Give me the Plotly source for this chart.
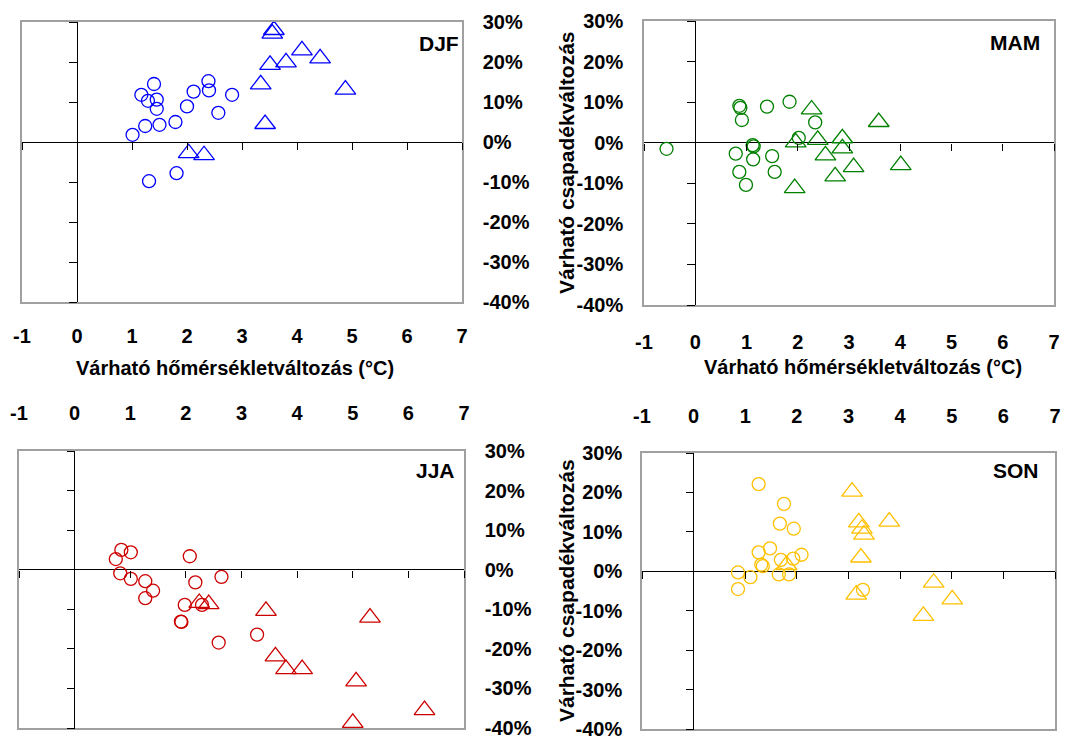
import plotly.graph_objects as go

# ---------------- data (°C change, % precipitation change) ----------------
x_tickvals = [-1, 0, 1, 2, 3, 4, 5, 6, 7]
x_ticktext = ["-1", "0", "1", "2", "3", "4", "5", "6", "7"]
y_tickvals = [-40, -30, -20, -10, 0, 10, 20, 30]
y_ticktext = ["-40%", "-30%", "-20%", "-10%", "0%", "10%", "20%", "30%"]

seasons = ["DJF", "MAM", "JJA", "SON"]

djf_circle_t = [1.01, 1.24, 1.50, 1.79, 1.17, 1.29, 1.45, 1.45, 1.40, 2.00, 2.12, 2.39, 2.40, 2.57, 2.82, 1.31, 1.81]
djf_circle_p = [1.8, 4.0, 4.3, 5.0, 11.8, 10.3, 10.6, 8.3, 14.5, 8.9, 12.6, 15.2, 12.9, 7.3, 11.8, -9.8, -7.8]
djf_tri_t = [3.58, 3.55, 4.09, 4.42, 3.80, 3.51, 3.34, 4.88, 3.42, 2.03, 2.31]
djf_tri_p = [28.0, 27.1, 22.9, 20.9, 19.9, 19.3, 14.4, 13.1, 4.5, -2.8, -3.3]

mam_circle_t = [-0.56, 0.86, 0.88, 0.91, 1.40, 1.84, 2.34, 2.02, 1.12, 1.14, 0.79, 1.13, 1.50, 0.86, 1.55, 0.99]
mam_circle_p = [-1.5, 9.1, 8.6, 5.6, 8.9, 10.1, 5.0, 1.2, -0.6, -0.9, -2.7, -4.1, -3.3, -7.2, -7.2, -10.4]
mam_tri_t = [2.27, 3.58, 1.96, 2.39, 2.87, 2.87, 2.54, 3.09, 2.73, 4.01, 1.94]
mam_tri_p = [8.2, 5.1, 0.1, 0.7, 1.1, -1.4, -3.1, -6.0, -8.3, -5.5, -11.2]

jja_circle_t = [0.84, 1.01, 0.74, 2.07, 0.82, 1.01, 1.27, 1.41, 1.27, 2.17, 2.64, 1.98, 2.29, 1.91, 1.92, 2.59, 3.28]
jja_circle_p = [5.0, 4.4, 2.7, 3.4, -0.9, -2.3, -2.9, -5.3, -7.2, -3.2, -1.8, -8.9, -8.9, -13.1, -13.2, -18.4, -16.4]
jja_tri_t = [2.24, 2.41, 3.44, 5.31, 3.61, 3.80, 4.09, 5.06, 6.29, 5.00]
jja_tri_p = [-8.4, -8.7, -10.4, -12.1, -21.9, -25.1, -25.1, -28.2, -35.5, -38.7]

son_circle_t = [1.26, 1.75, 1.67, 1.94, 1.26, 1.48, 1.31, 1.34, 1.69, 1.93, 2.09, 0.86, 1.10, 0.86, 1.65, 1.85, 3.28]
son_circle_p = [22.1, 17.1, 12.1, 10.8, 4.8, 5.8, 1.7, 1.3, 2.9, 3.2, 4.2, -0.3, -1.5, -4.5, -0.8, -0.8, -4.7]
son_tri_t = [3.07, 3.20, 3.79, 3.26, 3.30, 3.24, 1.80, 3.15, 4.65, 5.01, 4.45]
son_tri_p = [20.2, 12.4, 12.6, 10.8, 9.3, 3.5, 1.6, -5.9, -2.9, -7.1, -11.3]

x_title = "Várható hőmérsékletváltozás (°C)"
y_title = "Várható csapadékváltozás"

# ---------------- styling / layout ----------------
FONT = "Liberation Sans, Arial, Helvetica, sans-serif"
W, H = 1092, 738
X_RANGE = [-1, 7]
Y_RANGE = [-40, 30]
FRAME = "#A0A0A0"

panels = {
    "DJF": dict(n=1, color="#0000FF", px=(22, 462), py=(22, 302), xside="bottom", yside="right",
                xlen=15, ylen=15, data=(djf_circle_t, djf_circle_p, djf_tri_t, djf_tri_p),
                lab=(0.998, 0.925)),
    "MAM": dict(n=2, color="#008000", px=(644, 1054), py=(21, 305), xside="bottom", yside="left",
                xlen=18, ylen=15, data=(mam_circle_t, mam_circle_p, mam_tri_t, mam_tri_p),
                lab=(0.971, 0.926)),
    "JJA": dict(n=3, color="#CC0000", px=(19, 464), py=(451, 728), xside="top", yside="right",
                xlen=21, ylen=15, data=(jja_circle_t, jja_circle_p, jja_tri_t, jja_tri_p),
                lab=(0.984, 0.928)),
    "SON": dict(n=4, color="#FFC000", px=(642, 1055), py=(453, 729), xside="top", yside="left",
                xlen=20, ylen=14, data=(son_circle_t, son_circle_p, son_tri_t, son_tri_p),
                lab=(0.966, 0.935)),
}

fig = go.Figure()
layout = {}
annotations = []
tickfont = dict(family=FONT, size=20, color="black", weight="bold")

for s in seasons:
    p = panels[s]
    n = p["n"]
    xd = [p["px"][0] / W, p["px"][1] / W]
    yd = [1 - p["py"][1] / H, 1 - p["py"][0] / H]
    xs = "" if n == 1 else str(n)
    ct, cp, tt, tp = p["data"]

    fig.add_trace(go.Scatter(x=ct, y=cp, mode="markers", xaxis="x" + xs, yaxis="y" + xs,
                             marker=dict(symbol="circle-open", size=13, color=p["color"],
                                         line=dict(width=1.3, color=p["color"])),
                             name=s + " (circles)", showlegend=False, hoverinfo="x+y"))
    fig.add_trace(go.Scatter(x=tt, y=tp, mode="markers", xaxis="x" + xs, yaxis="y" + xs,
                             marker=dict(symbol="triangle-up-open", size=18, color=p["color"],
                                         line=dict(width=1.3, color=p["color"])),
                             name=s + " (triangles)", showlegend=False, hoverinfo="x+y"))

    # main axes: frame + tick labels
    layout["xaxis" + xs] = dict(domain=xd, range=X_RANGE, anchor="y" + xs, side=p["xside"],
                                tickvals=x_tickvals, ticktext=x_ticktext, ticks="outside",
                                ticklen=p["xlen"], tickcolor="rgba(0,0,0,0)", tickfont=tickfont,
                                ticklabeloverflow="allow",
                                showline=True, linecolor=FRAME, linewidth=1.5, mirror=True,
                                showgrid=False, zeroline=True, zerolinecolor="black",
                                zerolinewidth=1.2, fixedrange=True)
    layout["yaxis" + xs] = dict(domain=yd, range=Y_RANGE, anchor="x" + xs, side=p["yside"],
                                tickvals=y_tickvals, ticktext=y_ticktext, ticks="outside",
                                ticklen=p["ylen"], tickcolor="rgba(0,0,0,0)", tickfont=tickfont,
                                ticklabeloverflow="allow",
                                showline=True, linecolor=FRAME, linewidth=1.5, mirror=True,
                                showgrid=False, zeroline=True, zerolinecolor="black",
                                zerolinewidth=1.2, fixedrange=True)

    # overlay axes: tick marks on the zero lines
    ox = str(n + 4)
    y_zero_pos = yd[0] + (0 - Y_RANGE[0]) / (Y_RANGE[1] - Y_RANGE[0]) * (yd[1] - yd[0])
    x_zero_pos = xd[0] + (0 - X_RANGE[0]) / (X_RANGE[1] - X_RANGE[0]) * (xd[1] - xd[0])
    layout["xaxis" + ox] = dict(overlaying="x" + xs, anchor="free", position=y_zero_pos,
                                side="bottom", range=X_RANGE, tickvals=x_tickvals, ticks="outside",
                                ticklen=7, tickwidth=1.2, tickcolor="black", showticklabels=False,
                                showline=False, showgrid=False, zeroline=False, fixedrange=True)
    layout["yaxis" + ox] = dict(overlaying="y" + xs, anchor="free", position=x_zero_pos,
                                side="left", range=Y_RANGE, tickvals=y_tickvals, ticks="outside",
                                ticklen=8, tickwidth=1.2, tickcolor="black", showticklabels=False,
                                showline=False, showgrid=False, zeroline=False, fixedrange=True)
    fig.add_trace(go.Scatter(x=[None], y=[None], xaxis="x" + ox, yaxis="y" + xs,
                             showlegend=False, hoverinfo="skip"))
    fig.add_trace(go.Scatter(x=[None], y=[None], xaxis="x" + xs, yaxis="y" + ox,
                             showlegend=False, hoverinfo="skip"))

    annotations.append(dict(text=s, xref="x" + xs + " domain", yref="y" + xs + " domain",
                            x=p["lab"][0], y=p["lab"][1], xanchor="right", yanchor="middle",
                            showarrow=False,
                            font=dict(family=FONT, size=21, color="black", weight="bold")))

# axis titles (relative to their panel's domain)
annotations.append(dict(text=x_title, xref="x domain", yref="y domain", x=0.484, y=-0.236,
                        xanchor="center", yanchor="middle", showarrow=False,
                        font=dict(family=FONT, size=20, color="black", weight="bold")))
annotations.append(dict(text=x_title, xref="x2 domain", yref="y2 domain", x=0.534, y=-0.218,
                        xanchor="center", yanchor="middle", showarrow=False,
                        font=dict(family=FONT, size=20, color="black", weight="bold")))
annotations.append(dict(text=y_title, xref="x2 domain", yref="y2 domain", x=-0.190, y=0.5,
                        xanchor="center", yanchor="middle", textangle=-90, showarrow=False,
                        font=dict(family=FONT, size=21, color="black", weight="bold")))
annotations.append(dict(text=y_title, xref="x4 domain", yref="y4 domain", x=-0.184, y=0.5,
                        xanchor="center", yanchor="middle", textangle=-90, showarrow=False,
                        font=dict(family=FONT, size=21, color="black", weight="bold")))

fig.update_layout(width=W, height=H, margin=dict(l=0, r=0, t=0, b=0, autoexpand=False),
                  paper_bgcolor="white", plot_bgcolor="rgba(0,0,0,0)",
                  showlegend=False, annotations=annotations, **layout)

fig.write_html("out.html", config={"displayModeBar": False},
               post_script="document.body.style.margin='0';document.body.style.overflow='hidden';")
